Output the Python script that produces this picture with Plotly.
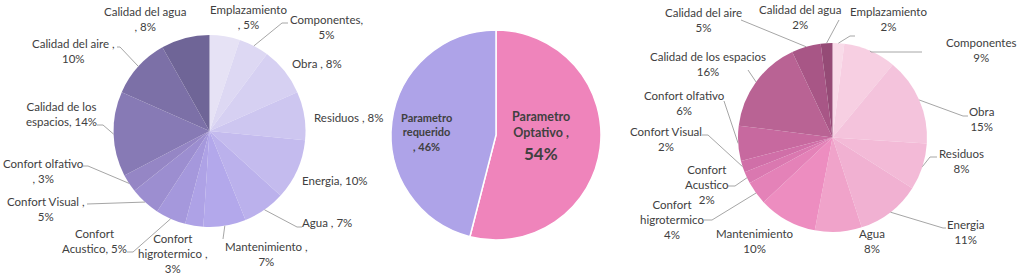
import math
import plotly.graph_objects as go

W, H = 1022, 277

# ---------------- data ----------------
categories = ["Emplazamiento", "Componentes", "Obra", "Residuos", "Energia", "Agua",
              "Mantenimiento", "Confort higrotermico", "Confort Acustico", "Confort Visual",
              "Confort olfativo", "Calidad de los espacios", "Calidad del aire", "Calidad del agua"]
left_values = [5, 5, 8, 8, 10, 7, 7, 3, 5, 5, 3, 14, 10, 8]
right_values = [2, 9, 15, 8, 11, 8, 10, 4, 2, 2, 6, 16, 5, 2]
middle_categories = ["Parametro Optativo", "Parametro requerido"]
middle_values = [54, 46]

left_label_fmt = ["Emplazamiento<br>, {}%", "Componentes,<br>{}%", "Obra , {}%", "Residuos , {}%",
                  "Energia, {}%", "Agua , {}%", "Mantenimiento ,<br>{}%",
                  "Confort<br>higrotermico ,<br>{}%", "Confort<br>Acustico, {}%",
                  "Confort Visual ,<br>{}%", "Confort olfativo<br>, {}%",
                  "Calidad de los<br>espacios, {}%", "Calidad del aire ,<br>{}%",
                  "Calidad del agua<br>, {}%"]
right_label_fmt = ["Emplazamiento<br>{}%", "Componentes<br>{}%", "Obra<br>{}%", "Residuos<br>{}%",
                   "Energia<br>{}%", "Agua<br>{}%", "Mantenimiento<br>{}%",
                   "Confort<br>higrotermico<br>{}%", "Confort<br>Acustico<br>{}%",
                   "Confort Visual<br>{}%", "Confort olfativo<br>{}%",
                   "Calidad de los espacios<br>{}%", "Calidad del aire<br>{}%",
                   "Calidad del agua<br>{}%"]

# ---------------- styles / layout ----------------
left_colors = ["#E6E2F5", "#DDD8F3", "#D6D0F2", "#CDC6F0", "#C4BBEE", "#BBB1EC", "#B3A8EB",
               "#AEA2E6", "#A598DC", "#9C8ED0", "#9586C5", "#877AB5", "#7C70A7", "#6F6597"]
right_colors = ["#F9DBE9", "#F7CFE2", "#F4C3DC", "#F3BAD7", "#F1B1D2", "#F0A3CA", "#ED8DC0",
                "#E482B8", "#DA78B0", "#D06FA8", "#C7699F", "#B96394", "#A85686", "#954B76"]
middle_colors = ["#EF84BB", "#AEA3E8"]

FONT = "Lato"
TXT = "#404040"
LINE = "#A6A6A6"

# pie geometry in pixels (center x, center y, radius)
LEFT_PIE = (209.5, 131, 96)
MID_PIE = (496, 135, 105)
RIGHT_PIE = (832.5, 137.5, 94.5)

# label centers (pixels)
left_label_pos = [(248, 17), (326, 27), (317, 63), (348, 117), (335, 180), (327, 222),
                  (266, 254), (173, 253), (94, 241), (46, 209), (43, 171), (61, 114),
                  (73, 51), (145, 19)]
right_label_pos = [(888, 19), (981, 50), (981, 119), (961, 161), (965, 232), (872, 241),
                   (755, 241), (672, 219), (707, 184), (666, 139), (684, 103), (708, 64),
                   (703, 20), (800, 17)]
# leader lines: None or list of points from label side toward the slice (pixels)
left_leaders = [None, [(288, 23), (282, 23)], None, None, None, [(302, 227), (297, 227)],
                [(223, 239)], None, [(127, 252), (133, 252)], [(87, 204)],
                [(83, 166), (88, 166)], [(97, 125), (103, 125)], [(117, 47), (120, 47)], None]
right_leaders = [[(855, 36), (850, 36)], [(922, 52), (871, 52)], [(968, 116), (963, 116)],
                 [(937, 157), (930, 157)], [(946, 228), (943, 228)], None, None,
                 [(704, 220), (712, 220)], [(728, 186), (735, 186)], [(702, 135), (708, 135)],
                 [(724, 101)], [(748, 70)], [(741, 20)], [(839, 20)]]


def px(x):
    return x / W


def py(y):
    return (H - y) / H


def domain(geo):
    cx, cy, r = geo
    return dict(x=[px(cx - r), px(cx + r)], y=[py(cy + r), py(cy - r)])


def edge_point(geo, values, i):
    cx, cy, r = geo
    total = sum(values)
    mid = (sum(values[:i]) + values[i] / 2) / total * 2 * math.pi
    return (cx + r * math.sin(mid), cy - r * math.cos(mid))


fig = go.Figure()
fig.add_trace(go.Pie(labels=categories, values=left_values, sort=False, direction="clockwise",
                     rotation=0, textinfo="none", marker=dict(colors=left_colors, line=dict(width=0)),
                     domain=domain(LEFT_PIE), showlegend=False, hoverinfo="label+value"))
fig.add_trace(go.Pie(labels=middle_categories, values=middle_values, sort=False,
                     direction="clockwise", rotation=0, textinfo="none",
                     marker=dict(colors=middle_colors, line=dict(color="white", width=1.5)),
                     domain=domain(MID_PIE), showlegend=False, hoverinfo="label+value"))
fig.add_trace(go.Pie(labels=categories, values=right_values, sort=False, direction="clockwise",
                     rotation=0, textinfo="none", marker=dict(colors=right_colors, line=dict(width=0)),
                     domain=domain(RIGHT_PIE), showlegend=False, hoverinfo="label+value"))

annotations = []
shapes = []


def add_labels(geo, values, fmts, positions, leaders):
    for i, v in enumerate(values):
        x, y = positions[i]
        annotations.append(dict(x=px(x), y=py(y), xref="paper", yref="paper",
                                text=fmts[i].format(v), showarrow=False, align="center",
                                xanchor="center", yanchor="middle",
                                font=dict(family=FONT, size=11.5, color=TXT)))
        if leaders[i]:
            pts = list(leaders[i]) + [edge_point(geo, values, i)]
            for a, b in zip(pts[:-1], pts[1:]):
                shapes.append(dict(type="line", xref="paper", yref="paper",
                                   x0=px(a[0]), y0=py(a[1]), x1=px(b[0]), y1=py(b[1]),
                                   line=dict(color=LINE, width=1)))


add_labels(LEFT_PIE, left_values, left_label_fmt, left_label_pos, left_leaders)
add_labels(RIGHT_PIE, right_values, right_label_fmt, right_label_pos, right_leaders)

# middle pie inside labels
annotations.append(dict(x=px(426), y=py(132), xref="paper", yref="paper",
                        text="<b>Parametro<br>requerido<br>, {}%</b>".format(middle_values[1]),
                        showarrow=False, align="center", xanchor="center", yanchor="middle",
                        font=dict(family=FONT, size=11, color=TXT)))
annotations.append(dict(x=px(541), y=py(125), xref="paper", yref="paper",
                        text="<b>Parametro<br>Optativo ,</b>", showarrow=False, align="center",
                        xanchor="center", yanchor="middle",
                        font=dict(family=FONT, size=12.5, color=TXT)))
annotations.append(dict(x=px(541), y=py(153), xref="paper", yref="paper",
                        text="<b>{}%</b>".format(middle_values[0]), showarrow=False,
                        align="center", xanchor="center", yanchor="middle",
                        font=dict(family=FONT, size=17, color=TXT)))

fig.update_layout(width=W, height=H, margin=dict(l=0, r=0, t=0, b=0),
                  paper_bgcolor="white", plot_bgcolor="white",
                  annotations=annotations, shapes=shapes)

fig.write_html("out.html")
